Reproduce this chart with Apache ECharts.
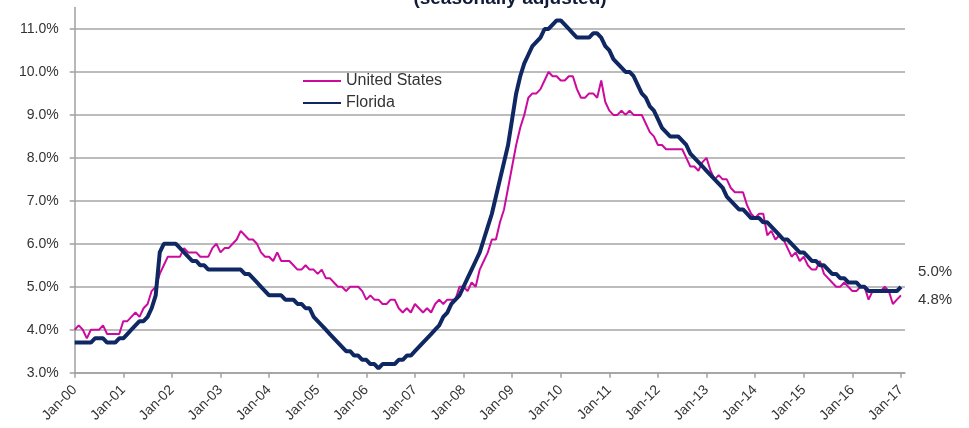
<!DOCTYPE html>
<html>
<head>
<meta charset="utf-8">
<script src="https://cdn.jsdelivr.net/npm/echarts@6/dist/echarts.min.js"></script>
<style>
  html, body { margin: 0; padding: 0; background: #fff; }
  #chart { width: 969px; height: 428px; }
</style>
</head>
<body>
<div id="chart"></div>
<script>
  // 月份标签 Jan-00 ... Jan-17
  var monthNames = ['Jan', 'Feb', 'Mar', 'Apr', 'May', 'Jun', 'Jul', 'Aug', 'Sep', 'Oct', 'Nov', 'Dec'];
  var years = ['00', '01', '02', '03', '04', '05', '06', '07', '08', '09', '10', '11', '12', '13', '14', '15', '16', '17'];

  // 美国失业率 (%)
  var usRate = [
    4.0, 4.1, 4.0, 3.8, 4.0, 4.0, 4.0, 4.1, 3.9, 3.9, 3.9, 3.9,
    4.2, 4.2, 4.3, 4.4, 4.3, 4.5, 4.6, 4.9, 5.0, 5.3, 5.5, 5.7,
    5.7, 5.7, 5.7, 5.9, 5.8, 5.8, 5.8, 5.7, 5.7, 5.7, 5.9, 6.0,
    5.8, 5.9, 5.9, 6.0, 6.1, 6.3, 6.2, 6.1, 6.1, 6.0, 5.8, 5.7,
    5.7, 5.6, 5.8, 5.6, 5.6, 5.6, 5.5, 5.4, 5.4, 5.5, 5.4, 5.4,
    5.3, 5.4, 5.2, 5.2, 5.1, 5.0, 5.0, 4.9, 5.0, 5.0, 5.0, 4.9,
    4.7, 4.8, 4.7, 4.7, 4.6, 4.6, 4.7, 4.7, 4.5, 4.4, 4.5, 4.4,
    4.6, 4.5, 4.4, 4.5, 4.4, 4.6, 4.7, 4.6, 4.7, 4.7, 4.7, 5.0,
    5.0, 4.9, 5.1, 5.0, 5.4, 5.6, 5.8, 6.1, 6.1, 6.5, 6.8, 7.3,
    7.8, 8.3, 8.7, 9.0, 9.4, 9.5, 9.5, 9.6, 9.8, 10.0, 9.9, 9.9,
    9.8, 9.8, 9.9, 9.9, 9.6, 9.4, 9.4, 9.5, 9.5, 9.4, 9.8, 9.3,
    9.1, 9.0, 9.0, 9.1, 9.0, 9.1, 9.0, 9.0, 9.0, 8.8, 8.6, 8.5,
    8.3, 8.3, 8.2, 8.2, 8.2, 8.2, 8.2, 8.0, 7.8, 7.8, 7.7, 7.9,
    8.0, 7.7, 7.5, 7.6, 7.5, 7.5, 7.3, 7.2, 7.2, 7.2, 6.9, 6.7,
    6.6, 6.7, 6.7, 6.2, 6.3, 6.1, 6.2, 6.1, 5.9, 5.7, 5.8, 5.6,
    5.7, 5.5, 5.4, 5.4, 5.6, 5.3, 5.2, 5.1, 5.0, 5.0, 5.1, 5.0,
    4.9, 4.9, 5.0, 5.0, 4.7, 4.9, 4.9, 4.9, 5.0, 4.9, 4.6, 4.7,
    4.8
  ];

  // 佛州失业率 (%)
  var flRate = [
    3.7, 3.7, 3.7, 3.7, 3.7, 3.8, 3.8, 3.8, 3.7, 3.7, 3.7, 3.8,
    3.8, 3.9, 4.0, 4.1, 4.2, 4.2, 4.3, 4.5, 4.8, 5.8, 6.0, 6.0,
    6.0, 6.0, 5.9, 5.8, 5.7, 5.6, 5.6, 5.5, 5.5, 5.4, 5.4, 5.4,
    5.4, 5.4, 5.4, 5.4, 5.4, 5.4, 5.3, 5.3, 5.2, 5.1, 5.0, 4.9,
    4.8, 4.8, 4.8, 4.8, 4.7, 4.7, 4.7, 4.6, 4.6, 4.5, 4.5, 4.3,
    4.2, 4.1, 4.0, 3.9, 3.8, 3.7, 3.6, 3.5, 3.5, 3.4, 3.4, 3.3,
    3.3, 3.2, 3.2, 3.1, 3.2, 3.2, 3.2, 3.2, 3.3, 3.3, 3.4, 3.4,
    3.5, 3.6, 3.7, 3.8, 3.9, 4.0, 4.1, 4.3, 4.4, 4.6, 4.7, 4.8,
    5.0, 5.2, 5.4, 5.6, 5.8, 6.1, 6.4, 6.7, 7.1, 7.5, 7.9, 8.3,
    8.9, 9.5, 9.9, 10.2, 10.4, 10.6, 10.7, 10.8, 11.0, 11.0, 11.1, 11.2,
    11.2, 11.1, 11.0, 10.9, 10.8, 10.8, 10.8, 10.8, 10.9, 10.9, 10.8, 10.6,
    10.5, 10.3, 10.2, 10.1, 10.0, 10.0, 9.9, 9.7, 9.5, 9.4, 9.2, 9.1,
    8.9, 8.7, 8.6, 8.5, 8.5, 8.5, 8.4, 8.3, 8.1, 8.0, 7.9, 7.8,
    7.7, 7.6, 7.5, 7.4, 7.3, 7.1, 7.0, 6.9, 6.8, 6.8, 6.7, 6.6,
    6.6, 6.6, 6.5, 6.5, 6.4, 6.3, 6.2, 6.1, 6.1, 6.0, 5.9, 5.8,
    5.8, 5.7, 5.6, 5.6, 5.5, 5.5, 5.4, 5.3, 5.3, 5.2, 5.2, 5.1,
    5.1, 5.1, 5.0, 5.0, 4.9, 4.9, 4.9, 4.9, 4.9, 4.9, 4.9, 4.9,
    5.0
  ];

  // Y轴刻度
  var yTicks = [3, 4, 5, 6, 7, 8, 9, 10, 11];

  var categories = [];
  years.forEach(function (y) {
    monthNames.forEach(function (m) { categories.push(m + '-' + y); });
  });
  categories = categories.slice(0, usRate.length);
  categories.push('');  // 轴末端留一点空白

  var fontFamily = '"Liberation Sans", Arial, sans-serif';
  var everyYear = function (index) { return index % 12 === 0; };

  var chart = echarts.init(document.getElementById('chart'));
  chart.setOption({
    animation: false,
    backgroundColor: '#fff',
    textStyle: { fontFamily: fontFamily },
    title: {
      text: '(seasonally adjusted)',
      left: 510,
      textAlign: 'center',
      top: -11,
      padding: 0,
      textStyle: { fontSize: 19, fontWeight: 'bold', color: '#111a3a', fontFamily: fontFamily }
    },
    legend: {
      orient: 'vertical',
      left: 302,
      top: 73,
      padding: 0,
      itemWidth: 38,
      itemHeight: 15,
      itemGap: 6,
      itemStyle: { opacity: 0 },
      textStyle: { fontSize: 16, color: '#333' },
      data: ['United States', 'Florida']
    },
    grid: { left: 74.7, right: 64, top: 7.5, bottom: 55.3, containLabel: false },
    xAxis: {
      type: 'category',
      boundaryGap: false,
      data: categories,
      axisLine: { lineStyle: { color: '#a0a0a0', width: 1.5 } },
      axisTick: { show: true, inside: false, length: 5, interval: everyYear, lineStyle: { color: '#a0a0a0', width: 1.5 } },
      axisLabel: {
        interval: everyYear,
        rotate: 45,
        fontSize: 14,
        color: '#333',
        margin: 15,
        padding: [0, 0, 0, 4]
      },
      splitLine: { show: false }
    },
    yAxis: {
      type: 'value',
      min: 3,
      max: 11.5,
      interval: 1,
      axisLine: { show: true, lineStyle: { color: '#a0a0a0', width: 1.5 } },
      axisTick: { show: true, inside: false, length: 5, customValues: yTicks, lineStyle: { color: '#a0a0a0', width: 1.5 } },
      axisLabel: {
        fontSize: 14,
        color: '#333',
        margin: 16,
        customValues: yTicks,
        formatter: function (v) { return v.toFixed(1) + '%'; }
      },
      splitLine: { show: true, lineStyle: { color: '#a6a6a6', width: 1.5 } }
    },
    series: [
      {
        name: 'United States',
        type: 'line',
        data: usRate,
        symbol: 'none',
        lineStyle: { color: '#cc0a9e', width: 2 },
        itemStyle: { color: '#cc0a9e' },
        endLabel: {
          show: true,
          offset: [9, 4],
          fontSize: 15,
          color: '#333',
          formatter: function (p) { return p.value.toFixed(1) + '%'; }
        }
      },
      {
        name: 'Florida',
        type: 'line',
        data: flRate,
        symbol: 'none',
        lineStyle: { color: '#0f2863', width: 4 },
        itemStyle: { color: '#0f2863' },
        endLabel: {
          show: true,
          offset: [9, -15],
          fontSize: 15,
          color: '#333',
          formatter: function (p) { return p.value.toFixed(1) + '%'; }
        }
      }
    ]
  });
</script>
</body>
</html>
